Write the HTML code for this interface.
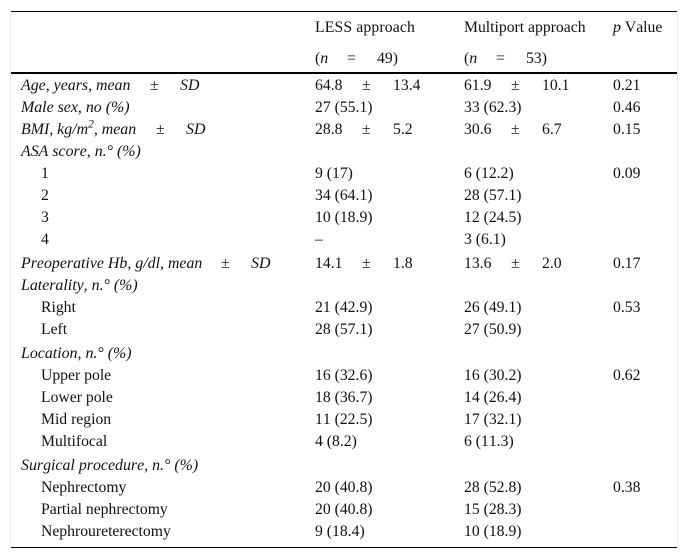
<!DOCTYPE html>
<html><head><meta charset="utf-8">
<style>
html,body{margin:0;padding:0;background:#fff}
#t{position:relative;width:688px;height:559px;overflow:hidden;font:15.7px/18px "Liberation Serif",serif;color:#111;font-kerning:none}
.r{position:absolute;left:0;width:688px;height:18px}
.r span{position:absolute;top:0;white-space:nowrap}
.l{position:absolute;background:#000}
i{font-style:italic;font-size:15.9px}
sup{font-size:11.5px;line-height:0}
</style></head><body>
<div id="t">
<div class="l" style="left:10px;top:11px;width:1px;height:537px;background:#eee"></div>
<div class="l" style="left:677px;top:11px;width:1px;height:537px;background:#eee"></div>
<div class="l" style="left:11px;top:11px;width:666px;height:1px"></div>
<div class="l" style="left:11px;top:72px;width:666px;height:2px"></div>
<div class="l" style="left:11px;top:547px;width:666px;height:1px"></div>

<div class="r" style="top:19px"><span style="left:315px;letter-spacing:.15px">LESS approach</span><span style="left:464px">Multiport approach</span><span style="left:613px"><i>p</i> Value</span></div>
<div class="r" style="top:50px"><span style="left:315px">(<i>n</i></span><span style="left:347px">=</span><span style="left:377px">49)</span><span style="left:464px">(<i>n</i></span><span style="left:496px">=</span><span style="left:526px">53)</span></div>

<div class="r" style="top:77px"><span style="left:21px"><i>Age, years, mean</i></span><span style="left:150px">±</span><span style="left:180px"><i>SD</i></span><span style="left:315px">64.8</span><span style="left:362px">±</span><span style="left:393px">13.4</span><span style="left:464px">61.9</span><span style="left:511px">±</span><span style="left:542px">10.1</span><span style="left:613px">0.21</span></div>
<div class="r" style="top:99px"><span style="left:21px"><i>Male sex, no (%)</i></span><span style="left:315px">27 (55.1)</span><span style="left:464px">33 (62.3)</span><span style="left:613px">0.46</span></div>
<div class="r" style="top:121px"><span style="left:21px"><i>BMI, kg/m<sup>2</sup>, mean</i></span><span style="left:156px">±</span><span style="left:186px"><i>SD</i></span><span style="left:315px">28.8</span><span style="left:362px">±</span><span style="left:393px">5.2</span><span style="left:464px">30.6</span><span style="left:511px">±</span><span style="left:542px">6.7</span><span style="left:613px">0.15</span></div>
<div class="r" style="top:143px"><span style="left:21px"><i>ASA score, n.° (%)</i></span></div>
<div class="r" style="top:165px"><span style="left:41px">1</span><span style="left:315px">9 (17)</span><span style="left:464px">6 (12.2)</span><span style="left:613px">0.09</span></div>
<div class="r" style="top:187px"><span style="left:41px">2</span><span style="left:315px">34 (64.1)</span><span style="left:464px">28 (57.1)</span></div>
<div class="r" style="top:209px"><span style="left:41px">3</span><span style="left:315px">10 (18.9)</span><span style="left:464px">12 (24.5)</span></div>
<div class="r" style="top:231px"><span style="left:41px">4</span><span style="left:315px">–</span><span style="left:464px">3 (6.1)</span></div>
<div class="r" style="top:255px"><span style="left:21px"><i>Preoperative Hb, g/dl, mean</i></span><span style="left:221px">±</span><span style="left:251px"><i>SD</i></span><span style="left:315px">14.1</span><span style="left:362px">±</span><span style="left:393px">1.8</span><span style="left:464px">13.6</span><span style="left:511px">±</span><span style="left:542px">2.0</span><span style="left:613px">0.17</span></div>
<div class="r" style="top:277px"><span style="left:21px"><i>Laterality, n.° (%)</i></span></div>
<div class="r" style="top:299px"><span style="left:41px">Right</span><span style="left:315px">21 (42.9)</span><span style="left:464px">26 (49.1)</span><span style="left:613px">0.53</span></div>
<div class="r" style="top:321px"><span style="left:41px">Left</span><span style="left:315px">28 (57.1)</span><span style="left:464px">27 (50.9)</span></div>
<div class="r" style="top:345px"><span style="left:21px"><i>Location, n.° (%)</i></span></div>
<div class="r" style="top:367px"><span style="left:41px">Upper pole</span><span style="left:315px">16 (32.6)</span><span style="left:464px">16 (30.2)</span><span style="left:613px">0.62</span></div>
<div class="r" style="top:389px"><span style="left:41px">Lower pole</span><span style="left:315px">18 (36.7)</span><span style="left:464px">14 (26.4)</span></div>
<div class="r" style="top:411px"><span style="left:41px">Mid region</span><span style="left:315px">11 (22.5)</span><span style="left:464px">17 (32.1)</span></div>
<div class="r" style="top:433px"><span style="left:41px">Multifocal</span><span style="left:315px">4 (8.2)</span><span style="left:464px">6 (11.3)</span></div>
<div class="r" style="top:457px"><span style="left:21px"><i>Surgical procedure, n.° (%)</i></span></div>
<div class="r" style="top:479px"><span style="left:41px">Nephrectomy</span><span style="left:315px">20 (40.8)</span><span style="left:464px">28 (52.8)</span><span style="left:613px">0.38</span></div>
<div class="r" style="top:501px"><span style="left:41px">Partial nephrectomy</span><span style="left:315px">20 (40.8)</span><span style="left:464px">15 (28.3)</span></div>
<div class="r" style="top:523px"><span style="left:41px">Nephroureterectomy</span><span style="left:315px">9 (18.4)</span><span style="left:464px">10 (18.9)</span></div>
</div>
</body></html>
